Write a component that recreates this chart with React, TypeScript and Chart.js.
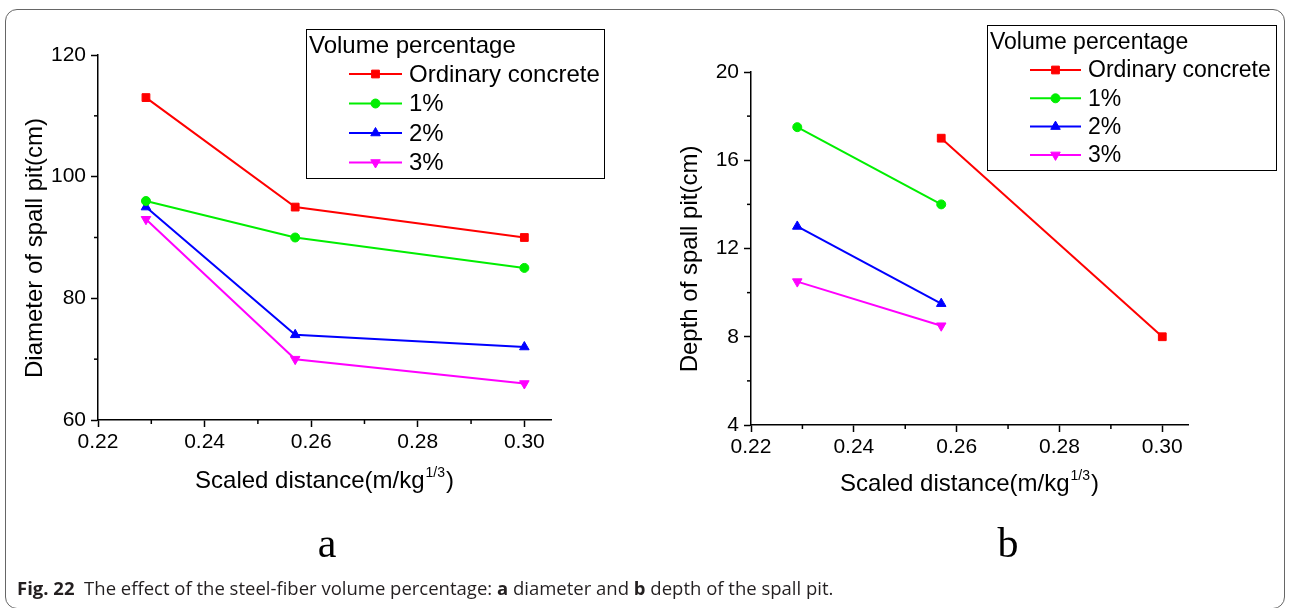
import React, { useEffect, useRef } from "react";
import { Chart, registerables } from "chart.js";
import { drawPoint } from "chart.js/helpers";

Chart.register(...registerables);

const FONT = '"Liberation Sans", Arial, sans-serif';

// ---- series definitions ----
const SERIES_LABELS = ["Ordinary concrete", "1%", "2%", "3%"];
const SERIES_COLORS = ["#ff0000", "#00ee00", "#0000ff", "#ff00ff"];
const SERIES_MARKERS = ["rect", "circle", "triangle", "triangle"];
const SERIES_ROTATION = [0, 0, 0, 180];
const SERIES_RADIUS = [5.5, 4.5, 5.5, 5.5];

// ---- panel a: diameter of spall pit ----
const DIST_A = [0.229, 0.257, 0.3];
const DIAM_ORDINARY = [113, 95, 90];
const DIAM_1 = [96, 90, 85];
const DIAM_2 = [95, 74, 72];
const DIAM_3 = [93, 70, 66];

// ---- panel b: depth of spall pit ----
const DIST_B_ORDINARY = [0.257, 0.3];
const DEPTH_ORDINARY = [17, 8];
const DIST_B_FIBER = [0.229, 0.257];
const DEPTH_1 = [17.5, 14];
const DEPTH_2 = [13, 9.5];
const DEPTH_3 = [10.5, 8.5];

// ---- ticks ----
const X_TICKS = [0.22, 0.24, 0.26, 0.28, 0.3];
const X_MINOR = [0.23, 0.25, 0.27, 0.29];
const Y_TICKS_A = [60, 80, 100, 120];
const Y_MINOR_A = [70, 90, 110];
const Y_TICKS_B = [4, 8, 12, 16, 20];
const Y_MINOR_B = [6, 10, 14, 18];

const X_TITLE = "Scaled distance(m/kg";
const X_SUP = "1/3";
const Y_TITLE_A = "Diameter of spall pit(cm)";
const Y_TITLE_B = "Depth of spall pit(cm)";
const LEGEND_TITLE = "Volume percentage";

const decorPlugin = {
  id: "decor",
  afterDraw(chart: any, _args: any, opts: any) {
    const ctx = chart.ctx as CanvasRenderingContext2D;
    const xs = chart.scales.x;
    const ys = chart.scales.y;
    const area = chart.chartArea;
    ctx.save();
    // minor ticks
    ctx.strokeStyle = "#000";
    ctx.lineWidth = 1.5;
    for (const v of opts.xMinor) {
      const p = xs.getPixelForValue(v);
      ctx.beginPath();
      ctx.moveTo(p, area.bottom);
      ctx.lineTo(p, area.bottom + opts.minorLen);
      ctx.stroke();
    }
    for (const v of opts.yMinor) {
      const p = ys.getPixelForValue(v);
      ctx.beginPath();
      ctx.moveTo(area.left, p);
      ctx.lineTo(area.left - opts.minorLen, p);
      ctx.stroke();
    }
    // x title with superscript
    ctx.fillStyle = "#000";
    ctx.textBaseline = "alphabetic";
    ctx.textAlign = "left";
    const mainFont = `${opts.titleSize}px ${FONT}`;
    const supFont = `${opts.supSize}px ${FONT}`;
    ctx.font = mainFont;
    const w1 = ctx.measureText(opts.xTitle).width;
    const w3 = ctx.measureText(")").width;
    ctx.font = supFont;
    const w2 = ctx.measureText(opts.xSup).width;
    const total = w1 + w2 + w3 + 2;
    const x0 = (area.left + area.right) / 2 - total / 2;
    const by = area.bottom + opts.xTitleOffset;
    ctx.font = mainFont;
    ctx.fillText(opts.xTitle, x0, by);
    ctx.font = supFont;
    ctx.fillText(opts.xSup, x0 + w1 + 1, by - opts.supRaise);
    ctx.font = mainFont;
    ctx.fillText(")", x0 + w1 + w2 + 2, by);
    // y title
    ctx.save();
    ctx.translate(opts.yTitleX, opts.yTitleY);
    ctx.rotate(-Math.PI / 2);
    ctx.textAlign = "center";
    ctx.font = mainFont;
    ctx.fillText(opts.yTitle, 0, 0);
    ctx.restore();
    // legend
    const L = opts.legend;
    ctx.lineWidth = 1;
    ctx.strokeStyle = "#000";
    ctx.strokeRect(L.left + 0.5, L.top + 0.5, L.width, L.height);
    ctx.font = `${L.fontSize}px ${FONT}`;
    ctx.textAlign = "left";
    ctx.textBaseline = "alphabetic";
    ctx.fillStyle = "#000";
    ctx.fillText(L.title, L.titleX, L.titleBaseline);
    chart.data.datasets.forEach((ds: any, i: number) => {
      const y = L.firstY + i * L.step;
      ctx.strokeStyle = ds.borderColor;
      ctx.lineWidth = ds.borderWidth;
      ctx.beginPath();
      ctx.moveTo(L.lineX0, y);
      ctx.lineTo(L.lineX1, y);
      ctx.stroke();
      ctx.fillStyle = ds.pointBackgroundColor;
      ctx.strokeStyle = ds.pointBorderColor;
      ctx.lineWidth = 1;
      drawPoint(
        ctx,
        { pointStyle: ds.pointStyle, rotation: ds.pointRotation, radius: ds.pointRadius, borderWidth: 1 } as any,
        (L.lineX0 + L.lineX1) / 2,
        y
      );
      ctx.fillStyle = "#000";
      ctx.textBaseline = "middle";
      ctx.fillText(ds.label, L.textX, y + 1);
    });
    ctx.restore();
  },
};

function makeDataset(i: number, xs: number[], ys: number[]) {
  return {
    label: SERIES_LABELS[i],
    data: xs.map((x, k) => ({ x, y: ys[k] })),
    borderColor: SERIES_COLORS[i],
    backgroundColor: SERIES_COLORS[i],
    pointBackgroundColor: SERIES_COLORS[i],
    pointBorderColor: SERIES_COLORS[i],
    pointStyle: SERIES_MARKERS[i],
    pointRotation: SERIES_ROTATION[i],
    pointRadius: SERIES_RADIUS[i],
    pointBorderWidth: 1,
    borderWidth: 2,
    tension: 0,
    fill: false,
  };
}

type PanelProps = {
  width: number;
  height: number;
  datasets: any[];
  yMin: number;
  yMax: number;
  yTicks: number[];
  yMinor: number[];
  area: { left: number; right: number; top: number; bottom: number };
  yTitle: string;
  yTitleX: number;
  yTitleY: number;
  xTitleOffset: number;
  legend: any;
};

function Panel(p: PanelProps) {
  const ref = useRef<HTMLCanvasElement | null>(null);
  useEffect(() => {
    if (!ref.current) return;
    const tickFont = { family: FONT, size: 21 };
    const chart = new Chart(ref.current, {
      type: "line",
      data: { datasets: p.datasets },
      plugins: [decorPlugin],
      options: {
        animation: false,
        responsive: false,
        maintainAspectRatio: false,
        layout: {
          padding: { left: 0, top: p.area.top, right: p.width - p.area.right, bottom: 0 },
        },
        plugins: {
          legend: { display: false },
          tooltip: { enabled: false },
          title: { display: false },
          decor: {
            xMinor: X_MINOR,
            yMinor: p.yMinor,
            minorLen: 4,
            titleSize: 24,
            supSize: 14,
            supRaise: 11,
            xTitle: X_TITLE,
            xSup: X_SUP,
            xTitleOffset: p.xTitleOffset,
            yTitle: p.yTitle,
            yTitleX: p.yTitleX,
            yTitleY: p.yTitleY,
            legend: p.legend,
          },
        } as any,
        scales: {
          x: {
            type: "linear",
            min: 0.22,
            max: 0.305,
            afterBuildTicks: (s: any) => {
              s.ticks = X_TICKS.map((value) => ({ value }));
            },
            afterFit: (s: any) => {
              s.height = p.height - p.area.bottom;
            },
            ticks: {
              font: tickFont,
              color: "#000",
              padding: 3,
              maxRotation: 0,
              autoSkip: false,
              callback: (v: any) => Number(v).toFixed(2),
            },
            grid: {
              drawOnChartArea: false,
              drawTicks: true,
              tickLength: 7,
              color: "#000",
              tickWidth: 1.5,
            },
            border: { display: true, color: "#000", width: 1.5 },
          },
          y: {
            type: "linear",
            min: p.yMin,
            max: p.yMax,
            afterBuildTicks: (s: any) => {
              s.ticks = p.yTicks.map((value) => ({ value }));
            },
            afterFit: (s: any) => {
              s.width = p.area.left;
            },
            ticks: {
              font: tickFont,
              color: "#000",
              padding: 5,
              autoSkip: false,
              callback: (v: any) => String(v),
            },
            grid: {
              drawOnChartArea: false,
              drawTicks: true,
              tickLength: 7,
              color: "#000",
              tickWidth: 1.5,
            },
            border: { display: true, color: "#000", width: 1.5 },
          },
        },
      } as any,
    });
    return () => chart.destroy();
  }, []);
  return <canvas ref={ref} width={p.width} height={p.height} style={{ display: "block" }} />;
}

export default function App() {
  const datasetsA = [
    makeDataset(0, DIST_A, DIAM_ORDINARY),
    makeDataset(1, DIST_A, DIAM_1),
    makeDataset(2, DIST_A, DIAM_2),
    makeDataset(3, DIST_A, DIAM_3),
  ];
  const datasetsB = [
    makeDataset(0, DIST_B_ORDINARY, DEPTH_ORDINARY),
    makeDataset(1, DIST_B_FIBER, DEPTH_1),
    makeDataset(2, DIST_B_FIBER, DEPTH_2),
    makeDataset(3, DIST_B_FIBER, DEPTH_3),
  ];
  const offB = 645;
  return (
    <div
      style={{
        position: "absolute",
        left: 0,
        top: 0,
        width: 1290,
        height: 608,
        background: "#fff",
        overflow: "hidden",
      }}
    >
      <div
        style={{
          position: "absolute",
          left: 5,
          top: 9,
          width: 1280,
          height: 600,
          border: "1px solid #666",
          borderRadius: 12,
          boxSizing: "border-box",
        }}
      />
      <div style={{ position: "absolute", left: 0, top: 0 }}>
        <Panel
          width={645}
          height={608}
          datasets={datasetsA}
          yMin={60}
          yMax={120}
          yTicks={Y_TICKS_A}
          yMinor={Y_MINOR_A}
          area={{ left: 98, right: 551, top: 55, bottom: 420 }}
          yTitle={Y_TITLE_A}
          yTitleX={42}
          yTitleY={248}
          xTitleOffset={68}
          legend={{
            left: 306,
            top: 29,
            width: 298,
            height: 149,
            fontSize: 24,
            title: LEGEND_TITLE,
            titleX: 309,
            titleBaseline: 53,
            firstY: 74,
            step: 29.5,
            lineX0: 349,
            lineX1: 402,
            textX: 409,
          }}
        />
      </div>
      <div style={{ position: "absolute", left: offB, top: 0 }}>
        <Panel
          width={645}
          height={608}
          datasets={datasetsB}
          yMin={4}
          yMax={20}
          yTicks={Y_TICKS_B}
          yMinor={Y_MINOR_B}
          area={{ left: 751 - offB, right: 1188 - offB, top: 72, bottom: 425 }}
          yTitle={Y_TITLE_B}
          yTitleX={697 - offB}
          yTitleY={259}
          xTitleOffset={66}
          legend={{
            left: 987 - offB,
            top: 25,
            width: 289,
            height: 145,
            fontSize: 23,
            title: LEGEND_TITLE,
            titleX: 990 - offB,
            titleBaseline: 49,
            firstY: 70,
            step: 28.3,
            lineX0: 1030 - offB,
            lineX1: 1081 - offB,
            textX: 1088 - offB,
          }}
        />
      </div>
      <div
        style={{
          position: "absolute",
          left: 277,
          top: 522,
          width: 100,
          textAlign: "center",
          fontFamily: '"Liberation Serif", "Times New Roman", serif',
          fontSize: 42,
          lineHeight: "42px",
          color: "#000",
        }}
      >
        a
      </div>
      <div
        style={{
          position: "absolute",
          left: 958,
          top: 522,
          width: 100,
          textAlign: "center",
          fontFamily: '"Liberation Serif", "Times New Roman", serif',
          fontSize: 42,
          lineHeight: "42px",
          color: "#000",
        }}
      >
        b
      </div>
      <div
        style={{
          position: "absolute",
          left: 17,
          top: 579,
          whiteSpace: "nowrap",
          fontFamily: '"Open Sans", "Noto Sans", sans-serif',
          fontSize: 18.5,
          lineHeight: "18.5px",
          color: "#231f20",
        }}
      >
        <b>Fig. 22</b>
        {"\u00a0\u00a0The effect of the steel-fiber volume percentage: "}
        <b>a</b>
        {" diameter and "}
        <b>b</b>
        {" depth of the spall pit."}
      </div>
    </div>
  );
}
